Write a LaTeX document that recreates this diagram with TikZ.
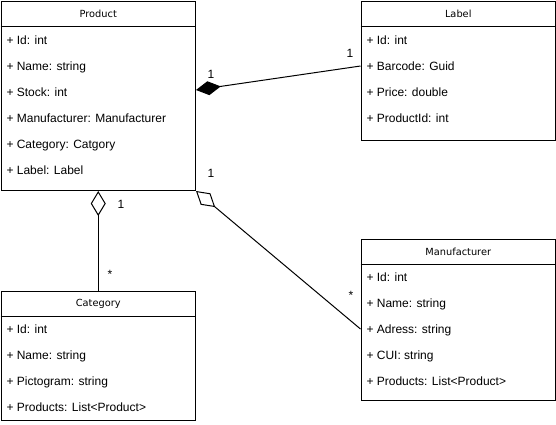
\documentclass[tikz,border=0pt]{standalone}
\usepackage{fontspec}
\setmainfont{Liberation Sans}
\newfontfamily\headfont{DejaVu Sans}
\usetikzlibrary{arrows.meta}

\begin{document}
\begin{tikzpicture}[x=1pt, y=-1pt, line width=1pt,
  classbox/.style = {draw, rectangle, anchor=north west, inner sep=0pt, minimum width=194.5pt},
  head/.style = {inner sep=0pt, font=\headfont\fontsize{9.8}{12}\selectfont},
  attr/.style = {anchor=base west, inner sep=0pt, font=\fontsize{12}{14}\selectfont},
  mult/.style = {inner sep=0pt, font=\fontsize{12}{14}\selectfont},
  comp/.style = {-{Diamond[length=25pt, width=14pt]}},
  aggr/.style = {-{Diamond[open, length=25pt, width=15pt]}}]

\useasboundingbox (0,0) rectangle (556,424);

% classes
\node[classbox, minimum height=189.5pt] (product) at (0.5,0.5) {};
\draw ([yshift=-25.5pt]product.north west) -- ([yshift=-25.5pt]product.north east);
\node[head] (product-name) at ([yshift=-13pt]product.north) {Product};
\foreach \t [count=\i] in {+ Id: int, + Name: string, + Stock: int,
    + Manufacturer: Manufacturer, + Category: Catgory, + Label: Label}
  \node[attr] (product-\i) at (6,18.5+26*\i) {\t};

\node[classbox, minimum height=139pt] (label) at (360.5,0.5) {};
\draw ([yshift=-25.5pt]label.north west) -- ([yshift=-25.5pt]label.north east);
\node[head] (label-name) at ([yshift=-13pt]label.north) {Label};
\foreach \t [count=\i] in {+ Id: int, + Barcode: Guid, + Price: double, + ProductId: int}
  \node[attr] (label-\i) at (366,18.5+26*\i) {\t};

\node[classbox, minimum height=129.5pt] (category) at (0.5,290.5) {};
\draw ([yshift=-25.5pt]category.north west) -- ([yshift=-25.5pt]category.north east);
\node[head] (category-name) at ([yshift=-13pt]category.north) {Category};
\foreach \t [count=\i] in {+ Id: int, + Name: string, + Pictogram: string,
    + Products: List<Product>}
  \node[attr] (category-\i) at (6,307.5+26*\i) {\t};

\node[classbox, minimum height=161.5pt] (manufacturer) at (360.5,238.5) {};
\draw ([yshift=-25.5pt]manufacturer.north west) -- ([yshift=-25.5pt]manufacturer.north east);
\node[head] (manufacturer-name) at ([yshift=-13pt]manufacturer.north) {Manufacturer};
\foreach \t [count=\i] in {+ Id: int, + Name: string, + Adress: string, + CUI: string,
    + Products: List<Product>}
  \node[attr] (manufacturer-\i) at (366,255.5+26*\i) {\t};

% associations
\draw[comp] (label.west |- 0,66) -- (product.east |- 0,90);
\draw[aggr] (category.north) -- (product.south);
\draw[aggr] (manufacturer.west |- 0,329) -- (product.south east);

\node[mult] (m-lp) at (211,74) {1};
\node[mult] (m-ll) at (350,53) {1};
\node[mult] (m-cp) at (121,204) {1};
\node[mult] (m-cc) at (110,274) {*};
\node[mult] (m-mp) at (211,173) {1};
\node[mult] (m-mm) at (351,295) {*};
\end{tikzpicture}
\end{document}
